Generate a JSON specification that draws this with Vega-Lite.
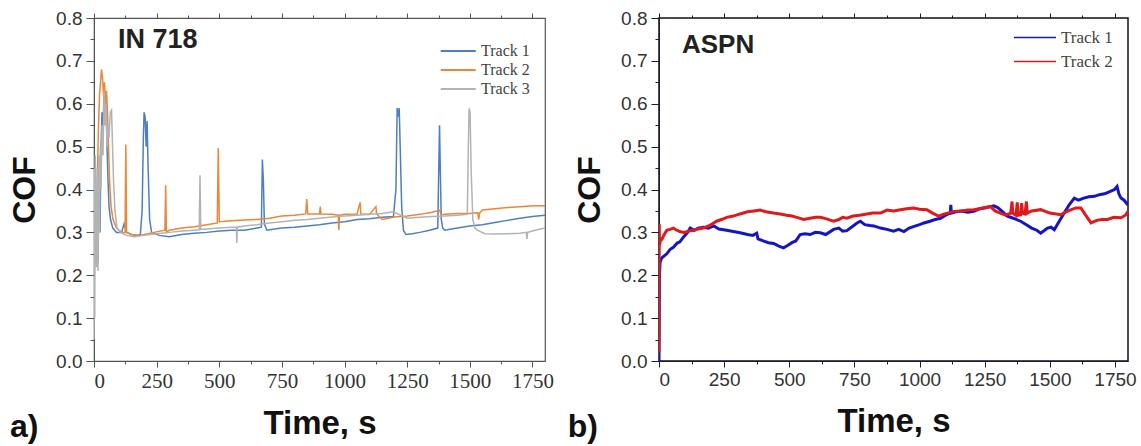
{
  "$schema": "https://vega.github.io/schema/vega-lite/v6.json",
  "padding": {"left": 7, "top": 8, "right": 5, "bottom": 5},
  "spacing": 12,
  "background": "white",
  "resolve": {"scale": {"color": "independent"}, "legend": {"color": "independent"}},
  "datasets": {
    "in718": [
      {"track":"Track 1","t":0,"cof":0.45},{"track":"Track 1","t":2,"cof":0.30},{"track":"Track 1","t":4,"cof":0.44},{"track":"Track 1","t":6,"cof":0.25},{"track":"Track 1","t":8,"cof":0.40},{"track":"Track 1","t":10,"cof":0.22},{"track":"Track 1","t":13,"cof":0.35},{"track":"Track 1","t":16,"cof":0.23},{"track":"Track 1","t":20,"cof":0.42},{"track":"Track 1","t":24,"cof":0.30},{"track":"Track 1","t":28,"cof":0.50},{"track":"Track 1","t":32,"cof":0.58},{"track":"Track 1","t":36,"cof":0.52},{"track":"Track 1","t":40,"cof":0.64},{"track":"Track 1","t":44,"cof":0.55},{"track":"Track 1","t":48,"cof":0.60},{"track":"Track 1","t":52,"cof":0.50},{"track":"Track 1","t":56,"cof":0.42},{"track":"Track 1","t":60,"cof":0.36},{"track":"Track 1","t":66,"cof":0.33},{"track":"Track 1","t":75,"cof":0.31},{"track":"Track 1","t":90,"cof":0.30},{"track":"Track 1","t":110,"cof":0.30},{"track":"Track 1","t":120,"cof":0.32},{"track":"Track 1","t":130,"cof":0.30},{"track":"Track 1","t":150,"cof":0.295},{"track":"Track 1","t":170,"cof":0.293},{"track":"Track 1","t":185,"cof":0.295},{"track":"Track 1","t":192,"cof":0.35},{"track":"Track 1","t":197,"cof":0.52},{"track":"Track 1","t":200,"cof":0.58},{"track":"Track 1","t":204,"cof":0.57},{"track":"Track 1","t":208,"cof":0.50},{"track":"Track 1","t":212,"cof":0.56},{"track":"Track 1","t":216,"cof":0.45},{"track":"Track 1","t":222,"cof":0.33},{"track":"Track 1","t":230,"cof":0.30},{"track":"Track 1","t":260,"cof":0.293},{"track":"Track 1","t":300,"cof":0.29},{"track":"Track 1","t":350,"cof":0.295},{"track":"Track 1","t":400,"cof":0.298},{"track":"Track 1","t":450,"cof":0.30},{"track":"Track 1","t":500,"cof":0.303},{"track":"Track 1","t":550,"cof":0.305},{"track":"Track 1","t":600,"cof":0.305},{"track":"Track 1","t":650,"cof":0.31},{"track":"Track 1","t":668,"cof":0.312},{"track":"Track 1","t":672,"cof":0.47},{"track":"Track 1","t":676,"cof":0.42},{"track":"Track 1","t":680,"cof":0.32},{"track":"Track 1","t":690,"cof":0.305},{"track":"Track 1","t":720,"cof":0.308},{"track":"Track 1","t":750,"cof":0.31},{"track":"Track 1","t":800,"cof":0.312},{"track":"Track 1","t":850,"cof":0.315},{"track":"Track 1","t":900,"cof":0.318},{"track":"Track 1","t":950,"cof":0.322},{"track":"Track 1","t":1000,"cof":0.325},{"track":"Track 1","t":1050,"cof":0.33},{"track":"Track 1","t":1100,"cof":0.332},{"track":"Track 1","t":1150,"cof":0.335},{"track":"Track 1","t":1195,"cof":0.337},{"track":"Track 1","t":1205,"cof":0.40},{"track":"Track 1","t":1210,"cof":0.59},{"track":"Track 1","t":1214,"cof":0.57},{"track":"Track 1","t":1218,"cof":0.59},{"track":"Track 1","t":1222,"cof":0.50},{"track":"Track 1","t":1228,"cof":0.36},{"track":"Track 1","t":1235,"cof":0.305},{"track":"Track 1","t":1245,"cof":0.295},{"track":"Track 1","t":1270,"cof":0.297},{"track":"Track 1","t":1300,"cof":0.30},{"track":"Track 1","t":1340,"cof":0.305},{"track":"Track 1","t":1372,"cof":0.31},{"track":"Track 1","t":1376,"cof":0.45},{"track":"Track 1","t":1379,"cof":0.55},{"track":"Track 1","t":1382,"cof":0.45},{"track":"Track 1","t":1386,"cof":0.33},{"track":"Track 1","t":1392,"cof":0.31},{"track":"Track 1","t":1400,"cof":0.305},{"track":"Track 1","t":1450,"cof":0.31},{"track":"Track 1","t":1500,"cof":0.315},{"track":"Track 1","t":1550,"cof":0.318},{"track":"Track 1","t":1600,"cof":0.323},{"track":"Track 1","t":1650,"cof":0.328},{"track":"Track 1","t":1700,"cof":0.333},{"track":"Track 1","t":1750,"cof":0.337},{"track":"Track 1","t":1800,"cof":0.34},

      {"track":"Track 2","t":0,"cof":0.15},{"track":"Track 2","t":3,"cof":0.25},{"track":"Track 2","t":6,"cof":0.30},{"track":"Track 2","t":10,"cof":0.35},{"track":"Track 2","t":14,"cof":0.45},{"track":"Track 2","t":18,"cof":0.55},{"track":"Track 2","t":22,"cof":0.62},{"track":"Track 2","t":26,"cof":0.65},{"track":"Track 2","t":30,"cof":0.68},{"track":"Track 2","t":34,"cof":0.66},{"track":"Track 2","t":38,"cof":0.62},{"track":"Track 2","t":42,"cof":0.65},{"track":"Track 2","t":46,"cof":0.60},{"track":"Track 2","t":50,"cof":0.63},{"track":"Track 2","t":54,"cof":0.58},{"track":"Track 2","t":58,"cof":0.50},{"track":"Track 2","t":62,"cof":0.42},{"track":"Track 2","t":68,"cof":0.36},{"track":"Track 2","t":76,"cof":0.33},{"track":"Track 2","t":90,"cof":0.31},{"track":"Track 2","t":110,"cof":0.30},{"track":"Track 2","t":124,"cof":0.30},{"track":"Track 2","t":127,"cof":0.505},{"track":"Track 2","t":130,"cof":0.30},{"track":"Track 2","t":150,"cof":0.295},{"track":"Track 2","t":180,"cof":0.293},{"track":"Track 2","t":200,"cof":0.295},{"track":"Track 2","t":240,"cof":0.30},{"track":"Track 2","t":283,"cof":0.305},{"track":"Track 2","t":286,"cof":0.41},{"track":"Track 2","t":289,"cof":0.30},{"track":"Track 2","t":300,"cof":0.305},{"track":"Track 2","t":350,"cof":0.31},{"track":"Track 2","t":400,"cof":0.313},{"track":"Track 2","t":450,"cof":0.318},{"track":"Track 2","t":492,"cof":0.322},{"track":"Track 2","t":496,"cof":0.497},{"track":"Track 2","t":500,"cof":0.325},{"track":"Track 2","t":550,"cof":0.327},{"track":"Track 2","t":600,"cof":0.329},{"track":"Track 2","t":650,"cof":0.33},{"track":"Track 2","t":700,"cof":0.333},{"track":"Track 2","t":750,"cof":0.338},{"track":"Track 2","t":800,"cof":0.34},{"track":"Track 2","t":845,"cof":0.343},{"track":"Track 2","t":849,"cof":0.378},{"track":"Track 2","t":853,"cof":0.343},{"track":"Track 2","t":900,"cof":0.343},{"track":"Track 2","t":903,"cof":0.36},{"track":"Track 2","t":906,"cof":0.343},{"track":"Track 2","t":950,"cof":0.342},{"track":"Track 2","t":975,"cof":0.34},{"track":"Track 2","t":977,"cof":0.305},{"track":"Track 2","t":980,"cof":0.34},{"track":"Track 2","t":1000,"cof":0.342},{"track":"Track 2","t":1050,"cof":0.343},{"track":"Track 2","t":1062,"cof":0.37},{"track":"Track 2","t":1065,"cof":0.343},{"track":"Track 2","t":1100,"cof":0.342},{"track":"Track 2","t":1125,"cof":0.36},{"track":"Track 2","t":1128,"cof":0.343},{"track":"Track 2","t":1150,"cof":0.33},{"track":"Track 2","t":1200,"cof":0.336},{"track":"Track 2","t":1250,"cof":0.338},{"track":"Track 2","t":1300,"cof":0.342},{"track":"Track 2","t":1350,"cof":0.347},{"track":"Track 2","t":1380,"cof":0.352},{"track":"Track 2","t":1385,"cof":0.34},{"track":"Track 2","t":1400,"cof":0.342},{"track":"Track 2","t":1450,"cof":0.344},{"track":"Track 2","t":1500,"cof":0.344},{"track":"Track 2","t":1532,"cof":0.346},{"track":"Track 2","t":1535,"cof":0.33},{"track":"Track 2","t":1540,"cof":0.346},{"track":"Track 2","t":1550,"cof":0.352},{"track":"Track 2","t":1600,"cof":0.355},{"track":"Track 2","t":1650,"cof":0.358},{"track":"Track 2","t":1700,"cof":0.36},{"track":"Track 2","t":1750,"cof":0.362},{"track":"Track 2","t":1800,"cof":0.362},

      {"track":"Track 3","t":0,"cof":0.05},{"track":"Track 3","t":1,"cof":0.45},{"track":"Track 3","t":3,"cof":0.10},{"track":"Track 3","t":5,"cof":0.48},{"track":"Track 3","t":7,"cof":0.22},{"track":"Track 3","t":9,"cof":0.40},{"track":"Track 3","t":11,"cof":0.22},{"track":"Track 3","t":13,"cof":0.45},{"track":"Track 3","t":16,"cof":0.21},{"track":"Track 3","t":19,"cof":0.48},{"track":"Track 3","t":22,"cof":0.30},{"track":"Track 3","t":25,"cof":0.50},{"track":"Track 3","t":28,"cof":0.40},{"track":"Track 3","t":32,"cof":0.55},{"track":"Track 3","t":36,"cof":0.48},{"track":"Track 3","t":40,"cof":0.63},{"track":"Track 3","t":44,"cof":0.55},{"track":"Track 3","t":48,"cof":0.60},{"track":"Track 3","t":52,"cof":0.50},{"track":"Track 3","t":56,"cof":0.55},{"track":"Track 3","t":60,"cof":0.52},{"track":"Track 3","t":65,"cof":0.58},{"track":"Track 3","t":70,"cof":0.585},{"track":"Track 3","t":74,"cof":0.50},{"track":"Track 3","t":78,"cof":0.42},{"track":"Track 3","t":84,"cof":0.35},{"track":"Track 3","t":92,"cof":0.31},{"track":"Track 3","t":105,"cof":0.30},{"track":"Track 3","t":130,"cof":0.293},{"track":"Track 3","t":160,"cof":0.29},{"track":"Track 3","t":200,"cof":0.293},{"track":"Track 3","t":250,"cof":0.297},{"track":"Track 3","t":300,"cof":0.30},{"track":"Track 3","t":350,"cof":0.303},{"track":"Track 3","t":400,"cof":0.305},{"track":"Track 3","t":420,"cof":0.306},{"track":"Track 3","t":423,"cof":0.433},{"track":"Track 3","t":426,"cof":0.307},{"track":"Track 3","t":450,"cof":0.308},{"track":"Track 3","t":500,"cof":0.31},{"track":"Track 3","t":550,"cof":0.312},{"track":"Track 3","t":568,"cof":0.312},{"track":"Track 3","t":570,"cof":0.275},{"track":"Track 3","t":572,"cof":0.312},{"track":"Track 3","t":600,"cof":0.315},{"track":"Track 3","t":650,"cof":0.318},{"track":"Track 3","t":700,"cof":0.322},{"track":"Track 3","t":750,"cof":0.325},{"track":"Track 3","t":800,"cof":0.328},{"track":"Track 3","t":850,"cof":0.33},{"track":"Track 3","t":900,"cof":0.333},{"track":"Track 3","t":950,"cof":0.336},{"track":"Track 3","t":1000,"cof":0.338},{"track":"Track 3","t":1050,"cof":0.34},{"track":"Track 3","t":1100,"cof":0.342},{"track":"Track 3","t":1150,"cof":0.344},{"track":"Track 3","t":1194,"cof":0.348},{"track":"Track 3","t":1250,"cof":0.333},{"track":"Track 3","t":1300,"cof":0.335},{"track":"Track 3","t":1350,"cof":0.337},{"track":"Track 3","t":1400,"cof":0.338},{"track":"Track 3","t":1450,"cof":0.34},{"track":"Track 3","t":1490,"cof":0.342},{"track":"Track 3","t":1494,"cof":0.50},{"track":"Track 3","t":1497,"cof":0.589},{"track":"Track 3","t":1501,"cof":0.58},{"track":"Track 3","t":1505,"cof":0.45},{"track":"Track 3","t":1512,"cof":0.33},{"track":"Track 3","t":1520,"cof":0.31},{"track":"Track 3","t":1530,"cof":0.305},{"track":"Track 3","t":1560,"cof":0.297},{"track":"Track 3","t":1600,"cof":0.296},{"track":"Track 3","t":1650,"cof":0.297},{"track":"Track 3","t":1700,"cof":0.298},{"track":"Track 3","t":1725,"cof":0.30},{"track":"Track 3","t":1728,"cof":0.285},{"track":"Track 3","t":1731,"cof":0.30},{"track":"Track 3","t":1760,"cof":0.305},{"track":"Track 3","t":1800,"cof":0.31}
    ],
    "aspn": [
      {"track":"Track 1","t":0,"cof":0.0},{"track":"Track 1","t":1,"cof":0.10},{"track":"Track 1","t":2,"cof":0.20},{"track":"Track 1","t":4,"cof":0.23},{"track":"Track 1","t":10,"cof":0.24},{"track":"Track 1","t":20,"cof":0.245},{"track":"Track 1","t":30,"cof":0.25},{"track":"Track 1","t":42,"cof":0.26},{"track":"Track 1","t":55,"cof":0.265},{"track":"Track 1","t":70,"cof":0.275},{"track":"Track 1","t":80,"cof":0.278},{"track":"Track 1","t":95,"cof":0.29},{"track":"Track 1","t":110,"cof":0.30},{"track":"Track 1","t":120,"cof":0.31},{"track":"Track 1","t":135,"cof":0.305},{"track":"Track 1","t":150,"cof":0.31},{"track":"Track 1","t":170,"cof":0.312},{"track":"Track 1","t":190,"cof":0.31},{"track":"Track 1","t":210,"cof":0.315},{"track":"Track 1","t":230,"cof":0.308},{"track":"Track 1","t":260,"cof":0.305},{"track":"Track 1","t":285,"cof":0.302},{"track":"Track 1","t":311,"cof":0.299},{"track":"Track 1","t":340,"cof":0.295},{"track":"Track 1","t":360,"cof":0.293},{"track":"Track 1","t":375,"cof":0.298},{"track":"Track 1","t":380,"cof":0.285},{"track":"Track 1","t":400,"cof":0.28},{"track":"Track 1","t":420,"cof":0.276},{"track":"Track 1","t":440,"cof":0.274},{"track":"Track 1","t":460,"cof":0.268},{"track":"Track 1","t":478,"cof":0.264},{"track":"Track 1","t":495,"cof":0.27},{"track":"Track 1","t":510,"cof":0.276},{"track":"Track 1","t":525,"cof":0.28},{"track":"Track 1","t":542,"cof":0.295},{"track":"Track 1","t":560,"cof":0.297},{"track":"Track 1","t":580,"cof":0.295},{"track":"Track 1","t":600,"cof":0.30},{"track":"Track 1","t":619,"cof":0.299},{"track":"Track 1","t":640,"cof":0.295},{"track":"Track 1","t":670,"cof":0.307},{"track":"Track 1","t":690,"cof":0.31},{"track":"Track 1","t":705,"cof":0.303},{"track":"Track 1","t":721,"cof":0.304},{"track":"Track 1","t":745,"cof":0.315},{"track":"Track 1","t":760,"cof":0.322},{"track":"Track 1","t":773,"cof":0.326},{"track":"Track 1","t":790,"cof":0.318},{"track":"Track 1","t":810,"cof":0.316},{"track":"Track 1","t":824,"cof":0.315},{"track":"Track 1","t":850,"cof":0.31},{"track":"Track 1","t":875,"cof":0.307},{"track":"Track 1","t":900,"cof":0.303},{"track":"Track 1","t":920,"cof":0.307},{"track":"Track 1","t":940,"cof":0.302},{"track":"Track 1","t":960,"cof":0.31},{"track":"Track 1","t":985,"cof":0.315},{"track":"Track 1","t":1000,"cof":0.318},{"track":"Track 1","t":1017,"cof":0.322},{"track":"Track 1","t":1040,"cof":0.326},{"track":"Track 1","t":1060,"cof":0.33},{"track":"Track 1","t":1081,"cof":0.333},{"track":"Track 1","t":1100,"cof":0.34},{"track":"Track 1","t":1118,"cof":0.345},{"track":"Track 1","t":1120,"cof":0.364},{"track":"Track 1","t":1122,"cof":0.345},{"track":"Track 1","t":1140,"cof":0.348},{"track":"Track 1","t":1160,"cof":0.35},{"track":"Track 1","t":1185,"cof":0.347},{"track":"Track 1","t":1208,"cof":0.349},{"track":"Track 1","t":1230,"cof":0.355},{"track":"Track 1","t":1250,"cof":0.357},{"track":"Track 1","t":1270,"cof":0.36},{"track":"Track 1","t":1285,"cof":0.362},{"track":"Track 1","t":1300,"cof":0.358},{"track":"Track 1","t":1315,"cof":0.35},{"track":"Track 1","t":1337,"cof":0.338},{"track":"Track 1","t":1360,"cof":0.333},{"track":"Track 1","t":1388,"cof":0.326},{"track":"Track 1","t":1410,"cof":0.318},{"track":"Track 1","t":1430,"cof":0.31},{"track":"Track 1","t":1450,"cof":0.305},{"track":"Track 1","t":1465,"cof":0.298},{"track":"Track 1","t":1480,"cof":0.305},{"track":"Track 1","t":1491,"cof":0.31},{"track":"Track 1","t":1505,"cof":0.312},{"track":"Track 1","t":1517,"cof":0.306},{"track":"Track 1","t":1535,"cof":0.325},{"track":"Track 1","t":1555,"cof":0.345},{"track":"Track 1","t":1575,"cof":0.365},{"track":"Track 1","t":1594,"cof":0.38},{"track":"Track 1","t":1610,"cof":0.375},{"track":"Track 1","t":1630,"cof":0.38},{"track":"Track 1","t":1650,"cof":0.383},{"track":"Track 1","t":1671,"cof":0.384},{"track":"Track 1","t":1690,"cof":0.388},{"track":"Track 1","t":1710,"cof":0.39},{"track":"Track 1","t":1730,"cof":0.395},{"track":"Track 1","t":1748,"cof":0.40},{"track":"Track 1","t":1758,"cof":0.407},{"track":"Track 1","t":1765,"cof":0.39},{"track":"Track 1","t":1773,"cof":0.38},{"track":"Track 1","t":1785,"cof":0.375},{"track":"Track 1","t":1800,"cof":0.364},

      {"track":"Track 2","t":0,"cof":0.02},{"track":"Track 2","t":1,"cof":0.32},{"track":"Track 2","t":2,"cof":0.27},{"track":"Track 2","t":5,"cof":0.28},{"track":"Track 2","t":12,"cof":0.285},{"track":"Track 2","t":20,"cof":0.295},{"track":"Track 2","t":30,"cof":0.305},{"track":"Track 2","t":42,"cof":0.307},{"track":"Track 2","t":55,"cof":0.31},{"track":"Track 2","t":68,"cof":0.305},{"track":"Track 2","t":80,"cof":0.302},{"track":"Track 2","t":95,"cof":0.30},{"track":"Track 2","t":110,"cof":0.302},{"track":"Track 2","t":119,"cof":0.304},{"track":"Track 2","t":135,"cof":0.305},{"track":"Track 2","t":150,"cof":0.308},{"track":"Track 2","t":170,"cof":0.31},{"track":"Track 2","t":190,"cof":0.315},{"track":"Track 2","t":205,"cof":0.32},{"track":"Track 2","t":221,"cof":0.326},{"track":"Track 2","t":240,"cof":0.33},{"track":"Track 2","t":260,"cof":0.335},{"track":"Track 2","t":285,"cof":0.338},{"track":"Track 2","t":311,"cof":0.343},{"track":"Track 2","t":340,"cof":0.348},{"track":"Track 2","t":365,"cof":0.35},{"track":"Track 2","t":388,"cof":0.352},{"track":"Track 2","t":410,"cof":0.348},{"track":"Track 2","t":440,"cof":0.345},{"track":"Track 2","t":465,"cof":0.343},{"track":"Track 2","t":490,"cof":0.34},{"track":"Track 2","t":510,"cof":0.338},{"track":"Track 2","t":529,"cof":0.335},{"track":"Track 2","t":545,"cof":0.332},{"track":"Track 2","t":555,"cof":0.33},{"track":"Track 2","t":580,"cof":0.333},{"track":"Track 2","t":600,"cof":0.335},{"track":"Track 2","t":619,"cof":0.335},{"track":"Track 2","t":640,"cof":0.332},{"track":"Track 2","t":660,"cof":0.328},{"track":"Track 2","t":670,"cof":0.326},{"track":"Track 2","t":690,"cof":0.33},{"track":"Track 2","t":705,"cof":0.335},{"track":"Track 2","t":721,"cof":0.333},{"track":"Track 2","t":745,"cof":0.338},{"track":"Track 2","t":770,"cof":0.34},{"track":"Track 2","t":798,"cof":0.343},{"track":"Track 2","t":820,"cof":0.345},{"track":"Track 2","t":850,"cof":0.345},{"track":"Track 2","t":875,"cof":0.352},{"track":"Track 2","t":900,"cof":0.35},{"track":"Track 2","t":927,"cof":0.353},{"track":"Track 2","t":950,"cof":0.355},{"track":"Track 2","t":977,"cof":0.357},{"track":"Track 2","t":1000,"cof":0.354},{"track":"Track 2","t":1028,"cof":0.353},{"track":"Track 2","t":1050,"cof":0.345},{"track":"Track 2","t":1073,"cof":0.338},{"track":"Track 2","t":1090,"cof":0.342},{"track":"Track 2","t":1110,"cof":0.345},{"track":"Track 2","t":1131,"cof":0.349},{"track":"Track 2","t":1160,"cof":0.35},{"track":"Track 2","t":1185,"cof":0.352},{"track":"Track 2","t":1208,"cof":0.353},{"track":"Track 2","t":1230,"cof":0.355},{"track":"Track 2","t":1250,"cof":0.358},{"track":"Track 2","t":1272,"cof":0.36},{"track":"Track 2","t":1290,"cof":0.35},{"track":"Track 2","t":1310,"cof":0.345},{"track":"Track 2","t":1330,"cof":0.34},{"track":"Track 2","t":1350,"cof":0.345},{"track":"Track 2","t":1355,"cof":0.372},{"track":"Track 2","t":1358,"cof":0.345},{"track":"Track 2","t":1370,"cof":0.34},{"track":"Track 2","t":1375,"cof":0.37},{"track":"Track 2","t":1378,"cof":0.34},{"track":"Track 2","t":1388,"cof":0.341},{"track":"Track 2","t":1392,"cof":0.368},{"track":"Track 2","t":1395,"cof":0.345},{"track":"Track 2","t":1405,"cof":0.343},{"track":"Track 2","t":1410,"cof":0.372},{"track":"Track 2","t":1413,"cof":0.345},{"track":"Track 2","t":1430,"cof":0.35},{"track":"Track 2","t":1465,"cof":0.353},{"track":"Track 2","t":1500,"cof":0.345},{"track":"Track 2","t":1542,"cof":0.341},{"track":"Track 2","t":1570,"cof":0.35},{"track":"Track 2","t":1600,"cof":0.357},{"track":"Track 2","t":1619,"cof":0.357},{"track":"Track 2","t":1640,"cof":0.338},{"track":"Track 2","t":1658,"cof":0.322},{"track":"Track 2","t":1680,"cof":0.328},{"track":"Track 2","t":1700,"cof":0.33},{"track":"Track 2","t":1722,"cof":0.33},{"track":"Track 2","t":1745,"cof":0.335},{"track":"Track 2","t":1773,"cof":0.334},{"track":"Track 2","t":1790,"cof":0.34},{"track":"Track 2","t":1800,"cof":0.349}
    ],
    "labels1": [{"t":96,"cof":0.749,"text":"IN 718"}],
    "tag1": [{"t":-335,"cof":-0.178,"text":"a)"}],
    "labels2": [{"t":88,"cof":0.738,"text":"ASPN"}],
    "tag2": [{"t":-350,"cof":-0.177,"text":"b)"}]
  },
  "hconcat": [
    {
      "width": 451,
      "height": 343,
      "view": {"stroke": "#555", "strokeWidth": 1.2},
      "resolve": {"axis": {"x": "independent", "y": "independent"}},
      "layer": [
        {
          "data": {"name": "in718"},
          "mark": {"type": "line", "strokeWidth": 1.5, "clip": true},
          "encoding": {
            "x": {"field": "t", "type": "quantitative", "scale": {"domain": [0, 1800], "nice": false, "zero": false},
              "axis": {"orient": "bottom", "values": [0,125,250,375,500,625,750,875,1000,1125,1250,1375,1500,1625,1750], "format": "d",
                "labelExpr": "datum.value % 250 === 0 ? datum.label : ''",
                "tickSize": {"condition": {"test": "datum.value % 250 === 0", "value": 6}, "value": 3},
                "labelFont": "Liberation Serif", "labelFontSize": 21, "labelColor": "#333", "labelPadding": 3, "labelOverlap": false,
                "title": "Time, s", "titleFont": "Liberation Sans", "titleFontSize": 33, "titleFontWeight": "bold", "titleColor": "#111", "titlePadding": 16,
                "domainColor": "#555", "tickColor": "#555", "grid": false}},
            "y": {"field": "cof", "type": "quantitative", "scale": {"domain": [0, 0.8], "nice": false},
              "axis": {"orient": "left", "values": [0,0.05,0.1,0.15,0.2,0.25,0.3,0.35,0.4,0.45,0.5,0.55,0.6,0.65,0.7,0.75,0.8], "format": ".1f",
                "labelExpr": "round(datum.value*20) % 2 === 0 ? datum.label : ''",
                "tickSize": {"condition": {"test": "round(datum.value*20) % 2 === 0", "value": 8}, "value": 4},
                "labelFont": "Liberation Sans", "labelFontSize": 19, "labelColor": "#333", "labelPadding": 4, "labelOverlap": false,
                "title": "COF", "titleFont": "Liberation Sans", "titleFontSize": 32, "titleFontWeight": "bold", "titleColor": "#111", "titlePadding": 14,
                "domainColor": "#555", "tickColor": "#555", "grid": false}},
            "color": {"field": "track", "type": "nominal",
              "scale": {"domain": ["Track 1", "Track 2", "Track 3"], "range": ["#4e7fc1", "#e8883a", "#b3b3b3"]},
              "legend": {"title": null, "orient": "none", "legendX": 363, "legendY": 23, "padding": 0,
                "symbolType": "M-3,0H1", "symbolSize": 306, "symbolStrokeWidth": 2, "labelOffset": 4, "rowPadding": 1,
                "labelFont": "Liberation Serif", "labelFontSize": 16, "labelColor": "#444"}}
          }
        },
        {
          "data": {"name": "labels1"},
          "mark": {"type": "text", "align": "left", "baseline": "middle", "font": "Liberation Sans", "fontSize": 27, "fontWeight": "bold", "color": "#222"},
          "encoding": {
            "x": {"field": "t", "type": "quantitative",
              "axis": {"orient": "top", "values": [0,125,250,375,500,625,750,875,1000,1125,1250,1375,1500,1625,1750], "labels": false, "domain": false, "title": null,
                "tickSize": {"condition": {"test": "datum.value % 250 === 0", "value": 5}, "value": 3}, "tickColor": "#555", "grid": false}},
            "y": {"field": "cof", "type": "quantitative", "axis": null},
            "text": {"field": "text"}
          }
        },
        {
          "data": {"name": "tag1"},
          "mark": {"type": "text", "align": "left", "baseline": "alphabetic", "font": "Liberation Sans", "fontSize": 32, "fontWeight": "bold", "color": "#111"},
          "encoding": {
            "x": {"field": "t", "type": "quantitative", "axis": null},
            "y": {"field": "cof", "type": "quantitative", "axis": null},
            "text": {"field": "text"}
          }
        }
      ]
    },
    {
      "width": 469,
      "height": 343,
      "view": {"stroke": "#111", "strokeWidth": 1.5},
      "resolve": {"axis": {"x": "independent", "y": "independent"}},
      "layer": [
        {
          "data": {"name": "aspn"},
          "mark": {"type": "line", "strokeWidth": 3, "clip": true},
          "encoding": {
            "x": {"field": "t", "type": "quantitative", "scale": {"domain": [0, 1800], "nice": false, "zero": false},
              "axis": {"orient": "bottom", "values": [0,125,250,375,500,625,750,875,1000,1125,1250,1375,1500,1625,1750], "format": "d",
                "labelExpr": "datum.value % 250 === 0 ? datum.label : ''",
                "tickSize": {"condition": {"test": "datum.value % 250 === 0", "value": 6}, "value": 3},
                "labelFont": "Liberation Sans", "labelFontSize": 19, "labelColor": "#333", "labelPadding": 3, "labelOverlap": false,
                "title": "Time, s", "titleFont": "Liberation Sans", "titleFontSize": 33, "titleFontWeight": "bold", "titleColor": "#111", "titlePadding": 16,
                "domainColor": "#1a1a40", "tickColor": "#1a1a40", "grid": false}},
            "y": {"field": "cof", "type": "quantitative", "scale": {"domain": [0, 0.8], "nice": false},
              "axis": {"orient": "left", "values": [0,0.05,0.1,0.15,0.2,0.25,0.3,0.35,0.4,0.45,0.5,0.55,0.6,0.65,0.7,0.75,0.8], "format": ".1f",
                "labelExpr": "round(datum.value*20) % 2 === 0 ? datum.label : ''",
                "tickSize": {"condition": {"test": "round(datum.value*20) % 2 === 0", "value": 8}, "value": 4},
                "labelFont": "Liberation Sans", "labelFontSize": 19, "labelColor": "#333", "labelPadding": 4, "labelOverlap": false,
                "title": "COF", "titleFont": "Liberation Sans", "titleFontSize": 32, "titleFontWeight": "bold", "titleColor": "#111", "titlePadding": 14,
                "domainColor": "#1a1a40", "tickColor": "#1a1a40", "grid": false}},
            "color": {"field": "track", "type": "nominal",
              "scale": {"domain": ["Track 1", "Track 2"], "range": ["#1515c8", "#e01a1a"]},
              "legend": {"title": null, "orient": "none", "legendX": 375, "legendY": 8, "padding": 0,
                "symbolType": "M-3,0H1", "symbolSize": 441, "symbolStrokeWidth": 1.5, "labelOffset": 4, "rowPadding": 4,
                "labelFont": "Liberation Serif", "labelFontSize": 17, "labelColor": "#444"}}
          }
        },
        {
          "data": {"name": "labels2"},
          "mark": {"type": "text", "align": "left", "baseline": "middle", "font": "Liberation Sans", "fontSize": 26, "fontWeight": "bold", "color": "#222"},
          "encoding": {
            "x": {"field": "t", "type": "quantitative",
              "axis": {"orient": "top", "values": [0,125,250,375,500,625,750,875,1000,1125,1250,1375,1500,1625,1750], "labels": false, "domain": false, "title": null,
                "tickSize": {"condition": {"test": "datum.value % 250 === 0", "value": 5}, "value": 3}, "tickColor": "#1a1a40", "grid": false}},
            "y": {"field": "cof", "type": "quantitative", "axis": null},
            "text": {"field": "text"}
          }
        },
        {
          "data": {"name": "tag2"},
          "mark": {"type": "text", "align": "left", "baseline": "alphabetic", "font": "Liberation Sans", "fontSize": 32, "fontWeight": "bold", "color": "#111"},
          "encoding": {
            "x": {"field": "t", "type": "quantitative", "axis": null},
            "y": {"field": "cof", "type": "quantitative", "axis": null},
            "text": {"field": "text"}
          }
        }
      ]
    }
  ]
}
